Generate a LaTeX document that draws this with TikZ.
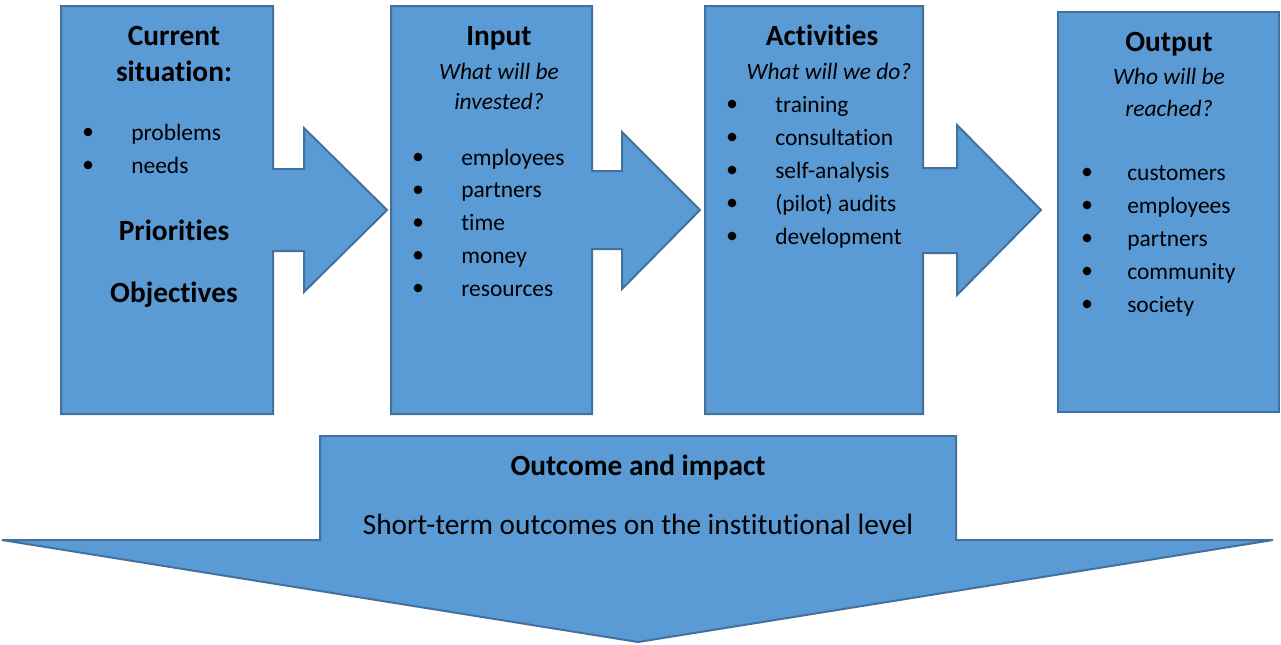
\documentclass[tikz,border=0pt]{standalone}
\usepackage{fontspec}
\setmainfont{Carlito}[Ligatures=NoCommon]
\definecolor{boxfill}{HTML}{5B9BD5}
\definecolor{boxline}{HTML}{41719C}
\tikzset{
  flowshape/.style={fill=boxfill, draw=boxline, line width=1.5pt, line join=miter},
  head/.style={font=\bfseries\fontsize{22}{26}\selectfont, anchor=mid, inner sep=0, yshift=-3pt},
  ques/.style={font=\itshape\fontsize{17.6}{21}\selectfont, anchor=mid, inner sep=0, yshift=-3pt},
  item/.style={font=\fontsize{17.6}{21}\selectfont, anchor=mid west, inner sep=0, yshift=-3pt},
  dot/.style={circle, fill=black, inner sep=0, minimum size=6.5pt},
  big/.style={font=\fontsize{22}{26}\selectfont, anchor=mid, inner sep=0, yshift=-3pt},
}
\begin{document}
\begin{tikzpicture}[x=0.75pt, y=-0.75pt]
\useasboundingbox (0,0) rectangle (1281,644);
% box 1 with arrow
\draw[flowshape] (61,6) -- (273,6) -- (273,169) -- (304,169) -- (304,128) -- (387,210) -- (304,292) -- (304,251) -- (273,251) -- (273,414) -- (61,414) -- cycle;
% box 2 with arrow
\draw[flowshape] (391,6) -- (592,6) -- (592,171) -- (622,171) -- (622,132) -- (700,210) -- (622,289) -- (622,249) -- (592,249) -- (592,414) -- (391,414) -- cycle;
% box 3 with arrow
\draw[flowshape] (705,6) -- (923,6) -- (923,168) -- (957,168) -- (957,125) -- (1041,210) -- (957,295) -- (957,253) -- (923,253) -- (923,414) -- (705,414) -- cycle;
% box 4
\draw[flowshape] (1058,12) rectangle (1279,412);
% bottom arrow
\draw[flowshape] (320,436) -- (956,436) -- (956,540) -- (1273,540) -- (638,642) -- (2,540) -- (320,540) -- cycle;

% box 1 text
\node[head] (cur1) at (174,38.5) {Current};
\node[head] (cur2) at (174,74.5) {situation:};
\node[dot] (b11) at (88,132) {};
\node[item] (t11) at (131,133) {problems};
\node[dot] (b12) at (88,165) {};
\node[item] (t12) at (131,166) {needs};
\node[head] (prio) at (174,233) {Priorities};
\node[head] (obj) at (174,295) {Objectives};

% box 2 text
\node[head] (inp) at (499,38.5) {Input};
\node[ques] (q21) at (499,72) {What will be};
\node[ques] (q22) at (499,102) {invested?};
\foreach \t [count=\i] in {employees, partners, time, money, resources} {
  \node[dot] (b2\i) at (418,{157+(\i-1)*32.75}) {};
  \node[item] (t2\i) at (461,{158+(\i-1)*32.75}) {\t};
}

% box 3 text
\node[head] (act) at (822,38.5) {Activities};
\node[ques] (q31) at (829,72) {What will we do?};
\foreach \t [count=\i] in {training, consultation, self-analysis, (pilot) audits, development} {
  \node[dot] (b3\i) at (732,{104+(\i-1)*33}) {};
  \node[item] (t3\i) at (775,{105+(\i-1)*33}) {\t};
}

% box 4 text
\node[head] (outp) at (1169,44) {Output};
\node[ques] (q41) at (1169,77) {Who will be};
\node[ques] (q42) at (1169,109) {reached?};
\foreach \t [count=\i] in {customers, employees, partners, community, society} {
  \node[dot] (b4\i) at (1087,{172+(\i-1)*33}) {};
  \node[item] (t4\i) at (1127,{173+(\i-1)*33}) {\t};
}

% bottom text
\node[head] (oi) at (638,468) {Outcome and impact};
\node[big] (st) at (638,527) {Short-term outcomes on the institutional level};
\end{tikzpicture}
\end{document}
